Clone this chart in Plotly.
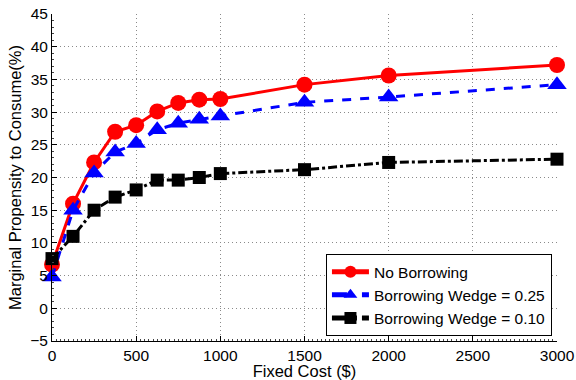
import plotly.graph_objects as go

fixed_cost = [0, 125, 250, 375, 500, 625, 750, 875, 1000, 1500, 2000, 3000]
no_borrowing = [6.7, 16.0, 22.3, 27.0, 28.0, 30.1, 31.4, 31.9, 32.0, 34.2, 35.6, 37.2]
wedge_025 = [4.8, 15.0, 20.7, 23.9, 25.2, 27.3, 28.3, 28.9, 29.4, 31.5, 32.3, 34.2]
wedge_010 = [7.6, 11.0, 15.0, 17.0, 18.1, 19.6, 19.6, 20.0, 20.6, 21.2, 22.3, 22.8]

x_ticks = [0, 500, 1000, 1500, 2000, 2500, 3000]
y_ticks = list(range(-5, 50, 5))

FONT = "Liberation Sans, Arial, sans-serif"

fig = go.Figure()
fig.add_trace(go.Scatter(
    x=fixed_cost, y=no_borrowing, name="No Borrowing", mode="lines+markers",
    line=dict(color="#ff0000", width=3, dash="solid"),
    marker=dict(symbol="circle", size=16, color="#ff0000"), cliponaxis=False))
fig.add_trace(go.Scatter(
    x=fixed_cost, y=wedge_025, name="Borrowing Wedge = 0.25", mode="lines+markers",
    line=dict(color="#0000ff", width=3, dash="dash"),
    marker=dict(symbol="triangle-up", size=17, color="#0000ff"), cliponaxis=False))
fig.add_trace(go.Scatter(
    x=fixed_cost, y=wedge_010, name="Borrowing Wedge = 0.10", mode="lines+markers",
    line=dict(color="#000000", width=3, dash="dashdot"),
    marker=dict(symbol="square", size=13, color="#000000"), cliponaxis=False))

axis_common = dict(
    showline=True, linecolor="black", linewidth=1, mirror=False,
    ticks="inside", ticklen=5, tickcolor="black",
    showgrid=True, gridcolor="#8a8a8a", griddash="1px,3px", gridwidth=1,
    zeroline=False, automargin=False, ticklabeloverflow="allow",
    tickfont=dict(family=FONT, size=15.5, color="black"),
)

fig.update_xaxes(
    range=[0, 3000], tickvals=x_ticks,
    title=dict(text="Fixed Cost ($)", font=dict(family=FONT, size=16.5, color="black"), standoff=0),
    minor=dict(ticks="inside", ticklen=2, dtick=25, tickcolor="#444", showgrid=False),
    **axis_common)
fig.update_yaxes(
    range=[-5, 45], tickvals=y_ticks,
    title=dict(text="Marginal Propensity to Consume(%)", font=dict(family=FONT, size=16.5, color="black"), standoff=4),
    minor=dict(ticks="inside", ticklen=2, dtick=1, tickcolor="#444", showgrid=False),
    **axis_common)

fig.update_layout(
    width=576, height=380,
    margin=dict(l=52, r=19, t=14, b=39),
    paper_bgcolor="white", plot_bgcolor="white",
    showlegend=True,
    legend=dict(x=0.99, y=0.015, xanchor="right", yanchor="bottom",
                bordercolor="black", borderwidth=1, bgcolor="white",
                font=dict(family=FONT, size=15.5, color="black"),
                tracegroupgap=0, itemsizing="constant", itemwidth=37),
)

fig.write_html("out.html", config={"displayModeBar": False},
               post_script="document.body.style.margin='0px';")
